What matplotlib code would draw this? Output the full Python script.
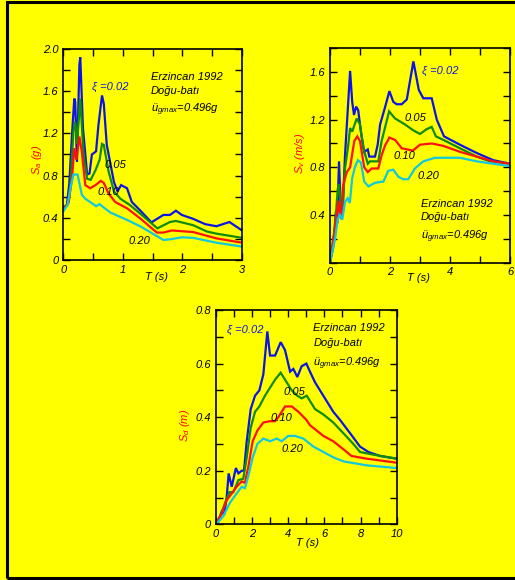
import matplotlib
matplotlib.use("Agg")
import matplotlib.pyplot as plt
from matplotlib.ticker import MultipleLocator, FixedLocator
from matplotlib.patches import Rectangle

plt.rcParams['font.family'] = ['Liberation Sans', 'DejaVu Sans']
plt.rcParams['font.style'] = 'italic'
plt.rcParams['mathtext.fontset'] = 'custom'
plt.rcParams['mathtext.it'] = 'Liberation Sans:italic'
plt.rcParams['mathtext.rm'] = 'Liberation Sans:italic'

# ---------------- data ----------------
damping_labels = ['ξ =0.02', '0.05', '0.10', '0.20']
colors = ['#0a14e6', '#108a10', '#ff1010', '#10c8e0']

# Sa (g)
sa_T_002 = [0, 0.06, 0.10, 0.145, 0.185, 0.20, 0.23, 0.27, 0.285, 0.33, 0.40, 0.44, 0.48, 0.55, 0.59, 0.65, 0.68, 0.73, 0.85, 0.91, 0.97, 1.07, 1.15, 1.29, 1.48, 1.68, 1.79, 1.89, 1.99, 2.18, 2.38, 2.57, 2.79, 3.0]
sa_002 = [0.49, 0.52, 0.72, 1.18, 1.53, 1.50, 0.93, 1.85, 1.92, 1.25, 0.81, 0.82, 1.0, 1.03, 1.28, 1.56, 1.48, 1.09, 0.74, 0.65, 0.71, 0.68, 0.55, 0.47, 0.357, 0.427, 0.427, 0.467, 0.427, 0.39, 0.34, 0.32, 0.36, 0.28]
sa_T_005 = [0, 0.08, 0.12, 0.17, 0.20, 0.23, 0.285, 0.34, 0.40, 0.46, 0.54, 0.61, 0.65, 0.68, 0.76, 0.85, 0.96, 1.12, 1.29, 1.58, 1.79, 1.89, 2.18, 2.41, 2.57, 3.0]
sa_005 = [0.50, 0.53, 0.72, 1.22, 1.31, 1.10, 1.53, 1.0, 0.77, 0.76, 0.85, 0.95, 1.10, 1.09, 0.84, 0.65, 0.58, 0.52, 0.44, 0.30, 0.36, 0.37, 0.33, 0.27, 0.25, 0.21]
sa_T_010 = [0, 0.09, 0.145, 0.185, 0.22, 0.27, 0.31, 0.37, 0.45, 0.54, 0.63, 0.68, 0.76, 0.87, 1.07, 1.29, 1.57, 1.68, 1.82, 2.18, 2.57, 3.0]
sa_010 = [0.47, 0.55, 0.77, 1.06, 0.95, 1.17, 1.03, 0.71, 0.68, 0.71, 0.75, 0.73, 0.63, 0.55, 0.49, 0.395, 0.26, 0.26, 0.28, 0.265, 0.205, 0.164]
sa_T_020 = [0, 0.07, 0.13, 0.17, 0.24, 0.31, 0.37, 0.45, 0.55, 0.61, 0.65, 0.79, 1.07, 1.29, 1.68, 1.79, 1.99, 2.18, 2.57, 3.0]
sa_020 = [0.46, 0.52, 0.71, 0.81, 0.81, 0.62, 0.58, 0.55, 0.51, 0.53, 0.51, 0.45, 0.38, 0.32, 0.19, 0.196, 0.215, 0.21, 0.164, 0.127]

# Sv (m/s)
sv_T_002 = [0, 0.1, 0.2, 0.24, 0.3, 0.36, 0.42, 0.5, 0.67, 0.74, 0.80, 0.87, 0.94, 1.03, 1.14, 1.26, 1.31, 1.5, 1.59, 1.67, 1.83, 1.98, 2.11, 2.22, 2.39, 2.56, 2.78, 2.96, 3.11, 3.39, 3.56, 3.8, 4.33, 4.89, 5.44, 6.0]
sv_002 = [0.0, 0.12, 0.43, 0.33, 0.85, 0.45, 0.42, 0.9, 1.61, 1.35, 1.24, 1.31, 1.28, 1.1, 0.93, 0.95, 0.89, 0.89, 0.99, 1.16, 1.30, 1.44, 1.35, 1.33, 1.33, 1.37, 1.69, 1.45, 1.38, 1.38, 1.2, 1.06, 0.99, 0.92, 0.86, 0.83]
sv_T_005 = [0, 0.17, 0.26, 0.3, 0.39, 0.5, 0.61, 0.67, 0.74, 0.89, 1.0, 1.11, 1.26, 1.33, 1.61, 1.72, 1.83, 1.97, 2.17, 2.5, 2.78, 3.0, 3.22, 3.39, 3.53, 3.78, 4.33, 4.89, 5.33, 6.0]
sv_005 = [0, 0.31, 0.62, 0.66, 0.36, 0.79, 0.99, 1.13, 1.10, 1.21, 1.16, 0.96, 0.83, 0.85, 0.85, 1.02, 1.13, 1.27, 1.21, 1.16, 1.11, 1.08, 1.12, 1.14, 1.06, 1.03, 0.96, 0.89, 0.85, 0.83]
sv_T_010 = [0, 0.17, 0.28, 0.36, 0.44, 0.56, 0.67, 0.81, 0.91, 1.0, 1.14, 1.26, 1.39, 1.61, 1.72, 1.83, 1.98, 2.17, 2.39, 2.76, 3.0, 3.39, 3.78, 4.33, 4.89, 5.44, 6.0]
sv_010 = [0, 0.29, 0.52, 0.37, 0.65, 0.76, 0.8, 1.02, 1.06, 1.02, 0.8, 0.76, 0.79, 0.79, 0.9, 0.98, 1.05, 1.03, 0.96, 0.94, 0.99, 1.0, 0.98, 0.93, 0.89, 0.85, 0.83]
sv_T_020 = [0, 0.17, 0.26, 0.33, 0.41, 0.5, 0.59, 0.66, 0.74, 0.83, 0.93, 1.03, 1.14, 1.28, 1.5, 1.78, 1.94, 2.11, 2.28, 2.44, 2.61, 2.83, 3.11, 3.5, 3.78, 4.33, 4.89, 5.44, 6.0]
sv_020 = [0, 0.2, 0.37, 0.40, 0.36, 0.51, 0.54, 0.50, 0.71, 0.80, 0.86, 0.84, 0.68, 0.64, 0.67, 0.68, 0.77, 0.78, 0.72, 0.70, 0.70, 0.79, 0.85, 0.88, 0.88, 0.88, 0.85, 0.83, 0.81]

# Sd (m)
sd_T_002 = [0, 0.13, 0.31, 0.45, 0.59, 0.70, 0.87, 1.0, 1.1, 1.24, 1.42, 1.55, 1.70, 1.92, 2.16, 2.40, 2.62, 2.84, 2.99, 3.27, 3.58, 3.82, 4.1, 4.28, 4.5, 4.74, 5.0, 5.2, 5.48, 5.94, 6.49, 6.86, 7.42, 7.97, 8.43, 9.08, 10.0]
sd_002 = [0, 0.01, 0.047, 0.035, 0.10, 0.19, 0.14, 0.18, 0.21, 0.19, 0.20, 0.20, 0.31, 0.43, 0.48, 0.50, 0.56, 0.72, 0.63, 0.63, 0.68, 0.65, 0.57, 0.58, 0.55, 0.59, 0.60, 0.57, 0.53, 0.48, 0.42, 0.39, 0.34, 0.29, 0.27, 0.255, 0.245]
sd_T_005 = [0, 0.3, 0.5, 0.74, 0.96, 1.24, 1.51, 1.7, 1.92, 2.16, 2.4, 2.71, 2.99, 3.27, 3.58, 3.82, 4.19, 4.5, 4.74, 5.02, 5.48, 5.94, 6.49, 7.05, 7.6, 7.97, 8.71, 10.0]
sd_005 = [0, 0.04, 0.08, 0.12, 0.12, 0.165, 0.17, 0.25, 0.36, 0.42, 0.44, 0.48, 0.51, 0.54, 0.566, 0.54, 0.50, 0.48, 0.47, 0.48, 0.43, 0.41, 0.38, 0.34, 0.30, 0.27, 0.26, 0.245]
sd_T_010 = [0, 0.31, 0.59, 0.87, 1.14, 1.42, 1.6, 1.79, 2.03, 2.29, 2.62, 2.99, 3.27, 3.45, 3.82, 4.19, 4.56, 5.0, 5.2, 5.94, 6.49, 7.05, 7.5, 8.34, 10.0]
sd_010 = [0, 0.04, 0.09, 0.115, 0.14, 0.16, 0.155, 0.215, 0.31, 0.35, 0.38, 0.385, 0.385, 0.40, 0.44, 0.44, 0.42, 0.39, 0.37, 0.33, 0.31, 0.28, 0.255, 0.245, 0.23]
sd_T_020 = [0, 0.4, 0.77, 1.14, 1.42, 1.6, 1.79, 2.03, 2.29, 2.62, 2.99, 3.36, 3.63, 4.0, 4.37, 4.83, 5.39, 6.49, 7.05, 8.34, 10.0]
sd_020 = [0, 0.03, 0.08, 0.115, 0.14, 0.135, 0.18, 0.25, 0.30, 0.32, 0.31, 0.32, 0.31, 0.33, 0.33, 0.32, 0.29, 0.25, 0.235, 0.22, 0.21]

sa_x_ticks = [0, 1, 2, 3]
sa_y_ticks = [0, 0.4, 0.8, 1.2, 1.6, 2.0]
sv_x_ticks = [0, 2, 4, 6]
sv_y_ticks = [0.4, 0.8, 1.2, 1.6]
sd_x_ticks = [0, 2, 4, 6, 8, 10]
sd_y_ticks = [0, 0.2, 0.4, 0.6, 0.8]

info_lines = ['Erzincan 1992', 'Doğu-batı', 'ü$_{gmax}$=0.496g']

# ---------------- figure ----------------
YEL = '#ffff00'
fig = plt.figure(figsize=(5.15, 5.8), dpi=100, facecolor=YEL)
fig.patches.append(Rectangle((7/515, 2/580), 1.2, 576/580, transform=fig.transFigure,
                             fill=False, edgecolor='black', lw=2.2, zorder=10))

FS = 8

def style(ax, xlim, ylim, xt, yt, xminor, yminor, xfmt, yfmt):
    ax.set_facecolor(YEL)
    ax.set_xlim(*xlim)
    ax.set_ylim(*ylim)
    ax.xaxis.set_major_locator(FixedLocator(xt))
    ax.yaxis.set_major_locator(FixedLocator(yt))
    ax.xaxis.set_minor_locator(MultipleLocator(xminor))
    ax.yaxis.set_minor_locator(MultipleLocator(yminor))
    ax.set_xticklabels([xfmt(v) for v in xt], fontsize=FS, style='italic')
    ax.set_yticklabels([yfmt(v) for v in yt], fontsize=FS, style='italic')
    ax.tick_params(which='both', direction='in', top=True, right=True,
                   length=5, width=1.0, pad=3.5)
    for s in ax.spines.values():
        s.set_linewidth(1.2)

def plot_curves(ax, Ts, Ys):
    for T, Y, c in zip(Ts, Ys, colors):
        ax.plot(T, Y, color=c, lw=1.6, solid_joinstyle='miter')

# Sa
ax1 = fig.add_axes([63.3/515, 1-260/580, 178.7/515, 211/580])
plot_curves(ax1, [sa_T_002, sa_T_005, sa_T_010, sa_T_020], [sa_002, sa_005, sa_010, sa_020])
style(ax1, (0, 3), (0, 2.0), sa_x_ticks, sa_y_ticks, 0.5, 0.2,
      lambda v: f'{v:g}', lambda v: '0' if v == 0 else f'{v:.1f}')
ax1.text(-0.147, 0.474, 'S$_a$ (g)', color='red', rotation=90, transform=ax1.transAxes,
         ha='center', va='center', fontsize=FS)
ax1.text(0.524, -0.08, 'T (s)', transform=ax1.transAxes, ha='center', va='center', fontsize=FS)
ax1.text(0.476, 1.637, damping_labels[0], color=colors[0], fontsize=FS, va='center')
ax1.text(0.684, 0.90, damping_labels[1], fontsize=FS, va='center')
ax1.text(0.577, 0.64, damping_labels[2], fontsize=FS, va='center')
ax1.text(1.09, 0.18, damping_labels[3], fontsize=FS, va='center')
for s, yv in zip(info_lines, [1.73, 1.605, 1.42]):
    ax1.text(1.466, yv, s, fontsize=FS, va='center')

# Sv
ax2 = fig.add_axes([330/515, 1-262.5/580, 180/515, 214.2/580])
plot_curves(ax2, [sv_T_002, sv_T_005, sv_T_010, sv_T_020], [sv_002, sv_005, sv_010, sv_020])
style(ax2, (0, 6), (0, 1.8), sv_x_ticks, sv_y_ticks, 1, 0.2,
      lambda v: f'{v:g}', lambda v: f'{v:.1f}')
ax2.text(-0.167, 0.511, 'S$_v$ (m/s)', color='red', rotation=90, transform=ax2.transAxes,
         ha='center', va='center', fontsize=FS)
ax2.text(0.489, -0.072, 'T (s)', transform=ax2.transAxes, ha='center', va='center', fontsize=FS)
ax2.text(3.08, 1.61, damping_labels[0], color=colors[0], fontsize=FS, va='center')
ax2.text(2.5, 1.215, damping_labels[1], fontsize=FS, va='center')
ax2.text(2.11, 0.897, damping_labels[2], fontsize=FS, va='center')
ax2.text(2.91, 0.723, damping_labels[3], fontsize=FS, va='center')
for s, yv in zip(info_lines, [0.49, 0.385, 0.217]):
    ax2.text(3.02, yv, s, fontsize=FS, va='center')

# Sd
ax3 = fig.add_axes([216/515, 1-524.3/580, 180.7/515, 214.3/580])
plot_curves(ax3, [sd_T_002, sd_T_005, sd_T_010, sd_T_020], [sd_002, sd_005, sd_010, sd_020])
style(ax3, (0, 10), (0, 0.8), sd_x_ticks, sd_y_ticks, 1, 0.1,
      lambda v: f'{v:g}', lambda v: '0' if v == 0 else f'{v:.1f}')
ax3.text(-0.172, 0.463, 'S$_d$ (m)', color='red', rotation=90, transform=ax3.transAxes,
         ha='center', va='center', fontsize=FS)
ax3.text(0.507, -0.089, 'T (s)', transform=ax3.transAxes, ha='center', va='center', fontsize=FS)
ax3.text(0.59, 0.725, damping_labels[0], color=colors[0], fontsize=FS, va='center')
ax3.text(3.76, 0.4925, damping_labels[1], fontsize=FS, va='center')
ax3.text(3.03, 0.395, damping_labels[2], fontsize=FS, va='center')
ax3.text(3.64, 0.281, damping_labels[3], fontsize=FS, va='center')
for s, yv in zip(info_lines, [0.731, 0.675, 0.60]):
    ax3.text(5.39, yv, s, fontsize=FS, va='center')

fig.savefig('out.png', dpi=100, facecolor=YEL)
